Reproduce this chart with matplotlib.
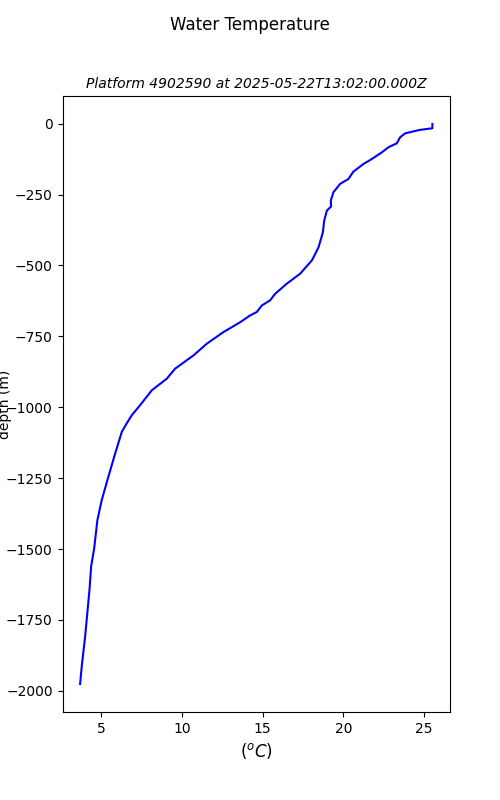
import matplotlib
matplotlib.use('Agg')
import matplotlib.pyplot as plt

# Profile values (temperature in degC, depth in m)
temperature = [25.51, 25.51, 24.71, 23.82, 23.51, 23.31, 22.79, 22.38, 21.66, 21.24,
               20.62, 20.31, 19.80, 19.38, 19.22, 19.24, 18.98, 18.81, 18.73, 18.46,
               18.15, 18.05, 17.32, 16.50, 15.77, 15.46, 14.95, 14.64, 14.23, 13.61,
               12.57, 11.54, 10.72, 9.58, 9.07, 8.14, 7.41, 6.90, 6.55, 6.28, 5.87,
               5.45, 5.04, 4.77, 4.57, 4.38, 4.28, 4.01, 3.80, 3.70]
depth = [-1, -16, -22, -34, -48, -69, -83, -101, -128, -142,
         -169, -195, -212, -242, -271, -292, -306, -342, -383, -436,
         -471, -482, -529, -564, -600, -623, -641, -664, -676, -700,
         -735, -776, -817, -864, -899, -940, -993, -1028, -1060, -1087, -1163,
         -1245, -1327, -1398, -1498, -1562, -1644, -1809, -1914, -1976]

platform = "4902590"
timestamp = "2025-05-22T13:02:00.000Z"

fig, ax = plt.subplots(figsize=(5, 8), dpi=100)
ax.plot(temperature, depth, color='blue', linewidth=1.5)
fig.suptitle("Water Temperature")
ax.set_title(f"Platform {platform} at {timestamp}", fontsize=10, style='italic')
ax.set_xlabel(r"$(^oC)$", fontsize=12)
ax.set_ylabel("depth (m)")
# label sits over the tick labels, like the original
ax.yaxis.set_label_coords(-0.13, 0.5)

fig.savefig("out.png")
